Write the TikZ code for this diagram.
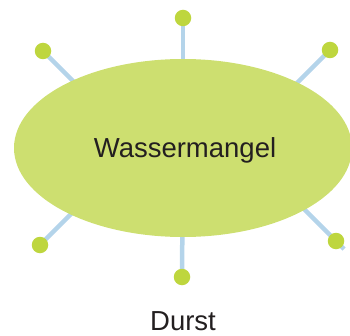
\documentclass[tikz,border=0pt]{standalone}
\usepackage{fontspec}
\setmainfont{Liberation Sans}
\usepackage{tikz}
\usetikzlibrary{shapes.geometric,backgrounds}

\definecolor{blobgreen}{RGB}{205,223,112}
\definecolor{dotgreen}{RGB}{190,214,62}
\definecolor{spokeblue}{RGB}{180,212,234}
\definecolor{inkgray}{RGB}{35,31,32}

\begin{document}
\begin{tikzpicture}[x=1pt,y=1pt,
	blob/.style={ellipse, fill=blobgreen, minimum width=338pt, minimum height=178pt, inner sep=0pt},
	knob/.style={circle, fill=dotgreen, minimum size=16.5pt, inner sep=0pt},
	spoke/.style={spokeblue, line width=4.5pt},
	lbl/.style={text=inkgray, inner sep=0pt, font=\fontsize{27.5}{32}\selectfont}]
		\useasboundingbox (0,0) rectangle (350,335);
		\coordinate (c) at (183,187);
		\node (n)  [knob] at (183,317) {};
		\node (nw) [knob] at (43,284) {};
		\node (ne) [knob] at (330,285) {};
		\node (sw) [knob] at (40,90) {};
		\node (se) [knob] at (336,94) {};
		\node (s)  [knob] at (182,58) {};
		\coordinate (setail) at (344,86);
		\begin{scope}[on background layer]
			\draw[spoke] (c) -- (n.center);
			\draw[spoke] (c) -- (s.center);
			\draw[spoke] (nw.center) -- ++(50,-50);
			\draw[spoke] (ne.center) -- ++(-50,-50);
			\draw[spoke] (sw.center) -- ++(50,50);
			\draw[spoke] (setail) -- ++(-58,58);
			\node (mangel) [blob] at (c) {};
		\end{scope}
		\node (wm) [lbl, anchor=base] at (185,178) {Wassermangel};
		\node (durst) [lbl, anchor=base] at (183,4.5) {Durst};
\end{tikzpicture}
\end{document}
